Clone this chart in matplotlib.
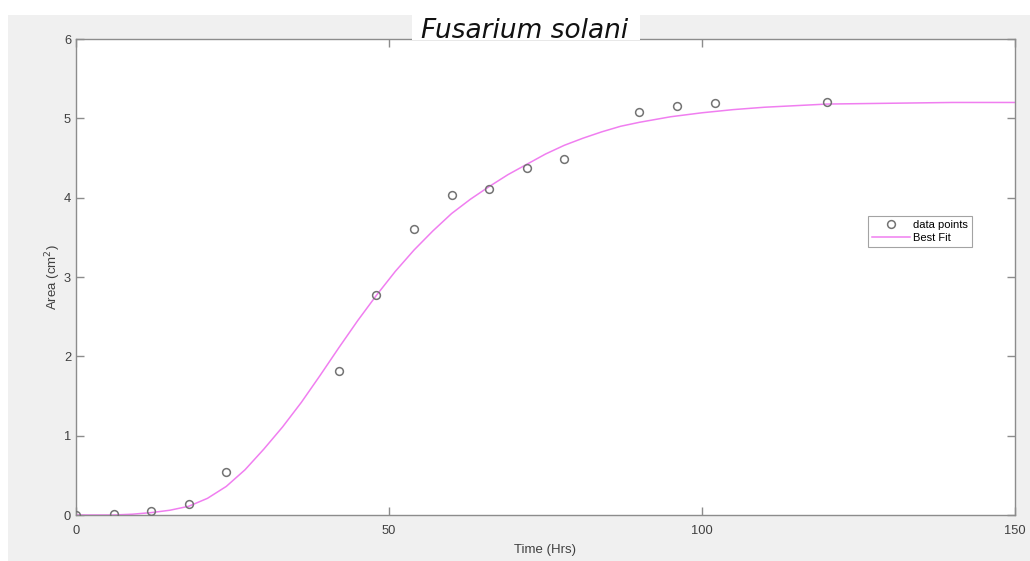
import matplotlib
matplotlib.use("Agg")
import matplotlib.pyplot as plt
from matplotlib.patches import Rectangle

# Data points
time_hrs = [0, 6, 12, 18, 24, 42, 48, 54, 60, 66, 72, 78, 90, 96, 102, 120]
area_cm2 = [0.0, 0.01, 0.05, 0.14, 0.54, 1.82, 2.77, 3.61, 4.03, 4.11, 4.38, 4.49, 5.08, 5.16, 5.19, 5.21]

# Best-fit curve values
fit_time = [0, 3, 6, 9, 12, 15, 18, 21, 24, 27, 30, 33, 36, 39, 42, 45, 48, 51, 54, 57, 60,
            63, 66, 69, 72, 75, 78, 81, 84, 87, 90, 95, 100, 105, 110, 115, 120, 130, 140, 150]
fit_area = [0.0, 0.0, 0.0, 0.01, 0.03, 0.06, 0.11, 0.21, 0.36, 0.57, 0.83, 1.11, 1.42, 1.76, 2.11,
            2.45, 2.77, 3.07, 3.34, 3.58, 3.80, 3.98, 4.14, 4.29, 4.42, 4.55, 4.66, 4.75, 4.83,
            4.90, 4.95, 5.02, 5.07, 5.11, 5.14, 5.16, 5.18, 5.19, 5.20, 5.20]

x_ticks = [0, 50, 100, 150]
y_ticks = [0, 1, 2, 3, 4, 5, 6]

W, H = 1030, 561
fig = plt.figure(figsize=(W / 100, H / 100), dpi=100, facecolor="white")
fig.patches.append(Rectangle((8 / W, 0), 1 - 8 / W, 1 - 15 / H, transform=fig.transFigure,
                             facecolor="#f0f0f0", edgecolor="none", zorder=-10))

ax = fig.add_axes([76 / W, (H - 515) / H, (1015 - 76) / W, (515 - 39) / H])
ax.set_facecolor("white")

ax.plot(fit_time, fit_area, color="#f07ef0", lw=1.1, label="Best Fit", zorder=2)
ax.plot(time_hrs, area_cm2, linestyle="none", marker="o", markersize=5.6,
        markerfacecolor="none", markeredgecolor="#737373", markeredgewidth=1.1,
        label="data points", zorder=3)

ax.set_xlim(0, 150)
ax.set_ylim(0, 6)
ax.set_xticks(x_ticks)
ax.set_yticks(y_ticks)

tick_col = "#404040"
for sp in ax.spines.values():
    sp.set_color("#8c8c8c")
    sp.set_linewidth(1.0)
ax.tick_params(direction="in", length=5.5, width=1, color="#8c8c8c",
               top=True, right=True, labelsize=9.3, labelcolor=tick_col)
ax.tick_params(axis="x", pad=7.5)
ax.tick_params(axis="y", pad=3.5)
for lab in ax.get_xticklabels() + ax.get_yticklabels():
    lab.set_family("Liberation Sans")

ax.set_xlabel("Time (Hrs)", fontsize=9.5, color=tick_col, family="Liberation Sans", labelpad=5)
ax.set_ylabel("Area (cm$^2$)", fontsize=9.5, color=tick_col, family="Liberation Sans")
ax.yaxis.set_label_coords(-0.0135, 0.5)

handles, labels = ax.get_legend_handles_labels()
leg = ax.legend(handles[::-1], labels[::-1], loc="upper left",
                bbox_to_anchor=((868 - 76) / 939, (515 - 216) / 476),
                prop={"family": "Liberation Sans", "size": 8}, frameon=True, fancybox=False,
                borderpad=0.35, handlelength=3.4, labelspacing=0.3, handletextpad=0.3,
                borderaxespad=0)
leg.get_frame().set_edgecolor("#8c8c8c")
leg.get_frame().set_linewidth(0.8)

# Title in white box
fig.patches.append(Rectangle((412 / W, (H - 40) / H), 228 / W, 25 / H, transform=fig.transFigure,
                             facecolor="white", edgecolor="none", zorder=5))
fig.text(525 / W, (H - 38) / H, "Fusarium solani", fontsize=19, style="italic",
         family="DejaVu Sans", ha="center", va="baseline", color="#111111", zorder=6)

fig.savefig("out.png", dpi=100, facecolor=fig.get_facecolor())
